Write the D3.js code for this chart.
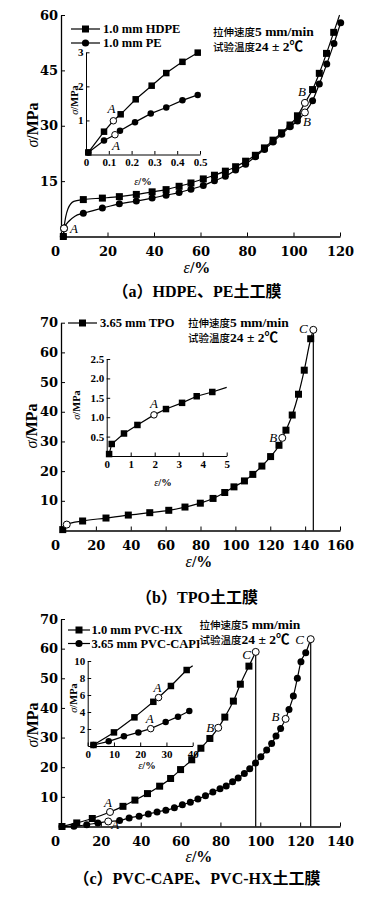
<!DOCTYPE html>
<html>
<head>
<meta charset="utf-8">
<script src="https://cdn.jsdelivr.net/npm/d3@7.9.0/dist/d3.min.js"></script>
<style>
  body { margin: 0; background: #fff; }
</style>
</head>
<body>
<svg id="chart" width="373" height="899"></svg>
<script>
"use strict";

// ---- data: (strain %, stress MPa) ----

// (a) HDPE / PE
const hdpeMarks = [[1, 0], [9.6, 10.0], [17.8, 10.4], [25.1, 10.8], [32.4, 11.4], [39.2, 12.1], [45.2, 12.7],
    [50.8, 13.6], [55.9, 14.5], [61.2, 15.6], [66.0, 16.6], [70.7, 17.7], [75.1, 18.9], [79.4, 20.4],
    [83.6, 22.0], [87.5, 24.0], [91.2, 26.1], [94.9, 28.1], [98.5, 30.2], [101.7, 32.7], [108.2, 39.8],
    [111.1, 44.2], [114.2, 49.6], [117.3, 55.3]];
const hdpeBend = [[3.0, 7.5], [5.5, 9.5], [119.8, 60.0]];
const hdpeKeys = [[1.3, 2.2, "A"], [104.9, 36.2, "B"]];

const peMarks = [[1, 0], [9.6, 6.3], [17.8, 7.7], [25.1, 8.85], [32.4, 9.6], [39.2, 10.4], [45.2, 11.2],
    [50.8, 11.9], [55.9, 12.8], [61.2, 13.8], [66.0, 15.1], [70.7, 16.3], [75.1, 18.0], [79.4, 19.6],
    [83.6, 21.6], [87.5, 23.6], [91.2, 25.6], [94.9, 27.7], [98.5, 29.7], [101.7, 31.3], [108.2, 36.8],
    [111.1, 41.3], [114.3, 46.7], [117.4, 52.3], [120.3, 57.9]];
const peBend = [[3.5, 4.2], [6.0, 5.5]];
const peKeys = [[1.3, 2.2, ""], [104.9, 33.6, "B"]];

const hdpeInset = [[0.01, 0.06], [0.079, 0.67], [0.152, 1.18], [0.218, 1.62], [0.288, 2.02], [0.352, 2.39],
    [0.423, 2.72], [0.49, 2.99]];
const hdpeInsetKeys = [[0.12, 0.99, "A"]];
const peInset = [[0.01, 0.06], [0.079, 0.41], [0.149, 0.70], [0.215, 0.95], [0.284, 1.20], [0.352, 1.38],
    [0.423, 1.59], [0.49, 1.75]];
const peInsetKeys = [[0.127, 0.58, "A"]];

// (b) TPO
const tpoMarks = [[1, 0.3], [12.4, 3.2], [25.8, 4.2], [38.6, 5.2], [50.9, 6.0], [61.8, 6.8], [71.1, 7.9],
    [79.9, 9.2], [87.2, 10.8], [93.9, 12.8], [99.2, 14.7], [105.2, 16.7], [110.0, 18.9], [115.2, 21.7],
    [120.2, 24.9], [125.0, 28.7], [129.0, 33.8], [132.6, 38.9], [136.2, 45.9], [139.5, 54.0], [143.2, 64.6]];
const tpoKeys = [[3.3, 2.0, ""], [126.9, 31.2, "B"], [144.7, 67.6, "C"]];

const tpoInset = [[0.1, 0.05], [0.21, 0.31], [0.72, 0.58], [1.28, 0.80], [2.47, 1.21], [3.14, 1.37],
    [3.75, 1.54], [4.40, 1.65]];
const tpoInsetEnd = [[5.0, 1.77]];
const tpoInsetKeys = [[1.97, 1.06, "A"]];

// (c) PVC-HX / PVC-CAPE
const hxMarks = [[0.5, 0], [7.9, 1.2], [15.7, 2.7], [31.1, 6.8], [37.1, 8.9], [43.4, 11.1], [49.5, 13.6],
    [55.0, 16.2], [60.0, 19.2], [65.6, 22.5], [70.2, 26.4], [74.7, 29.7], [82.2, 36.9], [86.5, 42.3],
    [90.0, 48.0], [94.3, 54.1]];
const hxKeys = [[24.6, 4.9, "A"], [78.9, 33.3, "B"], [97.7, 58.9, "C"]];

const capeMarks = [[0.5, 0], [6.5, 0.1], [12.9, 0.6], [18.5, 1.2], [29.4, 2.0], [34.2, 2.9], [39.2, 3.5],
    [43.8, 4.2], [48.2, 4.9], [52.6, 5.5], [56.9, 6.3], [60.9, 7.3], [64.9, 8.2], [68.7, 9.3], [72.5, 10.4],
    [76.2, 11.6], [79.8, 12.7], [82.9, 13.7], [86.1, 15.1], [88.9, 16.4], [92.0, 17.9], [94.7, 19.5],
    [97.6, 21.4], [100.3, 23.5], [103.2, 25.8], [105.7, 28.0], [107.9, 30.5], [110.2, 33.1], [114.4, 39.5],
    [116.6, 44.0], [118.6, 50.0], [120.4, 55.6], [122.8, 58.6]];
const capeKeys = [[23.7, 1.7, "A"], [112.7, 36.3, "B"], [125.3, 63.2, "C"]];

const hxInset = [[2.2, 0.12], [10, 1.6], [17.8, 3.37], [25, 5.2], [31.7, 7.06], [37.7, 8.94]];
const hxInsetEnd = [[40, 9.45]];
const hxInsetKeys = [[27, 5.7, "A"]];
const capeInset = [[2.2, 0.12], [8, 0.55], [13.8, 1.14], [19.3, 1.6], [29.7, 2.82], [34.4, 3.45], [38.7, 4.12]];
const capeInsetKeys = [[24, 2.04, "A"]];

// ---- ticks and texts ----
const ticksA = { x: [0, 20, 40, 60, 80, 100, 120], y: [15, 30, 45, 60] };
const ticksAInset = { x: [0, 0.1, 0.2, 0.3, 0.4, 0.5], y: [1, 2, 3] };
const ticksB = { x: [0, 20, 40, 60, 80, 100, 120, 140, 160], y: [10, 20, 30, 40, 50, 60, 70] };
const ticksBInset = { x: [0, 1, 2, 3, 4, 5], y: [0.5, 1.0, 1.5, 2.0, 2.5] };
const ticksC = { x: [0, 20, 40, 60, 80, 100, 120, 140], y: [10, 20, 30, 40, 50, 60, 70] };
const ticksCInset = { x: [0, 10, 20, 30, 40], y: [2, 4, 6, 8, 10] };

const legendA = ["1.0 mm HDPE", "1.0 mm PE"];
const legendB = ["3.65 mm TPO"];
const legendC = ["1.0 mm PVC-HX", "3.65 mm PVC-CAPE"];
const noteLines = [["拉伸速度", "5 mm/min"], ["试验温度", "24 ± 2℃"]];
const captions = ["（a）HDPE、PE土工膜", "（b）TPO土工膜", "（c）PVC-CAPE、PVC-HX土工膜"];

// ---- drawing ----
const NUM_FONT = "'DejaVu Serif', serif";
const SERIF = "'Liberation Serif', 'Noto Sans CJK SC', serif";
const CJK = "'Noto Sans CJK SC', sans-serif";

const svg = d3.select("#chart");
const markLayer = [];

function drawAxes(g, x, y, ticks, o) {
    const xa = g.append("g")
        .attr("transform", `translate(0,${y.range()[0]})`)
        .call(d3.axisBottom(x).tickValues(ticks.x).tickFormat(o.xFmt || String)
            .tickSizeInner(-o.tick).tickSizeOuter(0).tickPadding(o.xPad));
    const ya = g.append("g")
        .attr("transform", `translate(${x.range()[0]},0)`)
        .call(d3.axisLeft(y).tickValues(ticks.y).tickFormat(o.yFmt || String)
            .tickSizeInner(-o.tick).tickSizeOuter(0).tickPadding(o.yPad));

    for (const a of [xa, ya]) {
        a.attr("font-family", o.font).attr("font-size", o.size).attr("font-weight", "bold");
        a.select(".domain").attr("stroke", "#000").attr("stroke-width", o.sw);
        a.selectAll(".tick line").attr("stroke", "#000").attr("stroke-width", 1);
        a.selectAll(".tick text").attr("fill", "#000");
    }
    if (o.zeroShift) {
        xa.selectAll(".tick text").filter((d) => d === 0).attr("dx", o.zeroShift);
    }
}

function axisTitles(g, xt, yt, size) {
    g.append("text")
        .attr("x", xt[0]).attr("y", xt[1])
        .attr("text-anchor", "middle")
        .attr("font-family", SERIF).attr("font-weight", "bold").attr("font-size", size)
        .call((t) => {
            t.append("tspan").attr("font-style", "italic").attr("font-weight", "normal").text("ε");
            t.append("tspan").text("/%");
        });
    g.append("text")
        .attr("transform", `translate(${yt[0]},${yt[1]}) rotate(-90)`)
        .attr("text-anchor", "middle")
        .attr("font-family", SERIF).attr("font-weight", "bold").attr("font-size", size)
        .call((t) => {
            t.append("tspan").attr("font-style", "italic").attr("font-weight", "normal").text("σ");
            t.append("tspan").text("/MPa");
        });
}

// line through marks, bend points and key points; marks are queued to draw on top
function drawSeries(g, x, y, s) {
    const pts = [...s.marks, ...(s.extra || []), ...s.keys].sort((a, b) => a[0] - b[0]);
    g.append("path")
        .attr("d", d3.line().x((d) => x(d[0])).y((d) => y(d[1])).curve(s.curve)(pts))
        .attr("fill", "none")
        .attr("stroke", "#000")
        .attr("stroke-width", s.lw || 1.2);

    if (s.drop) {
        const c = s.keys[s.keys.length - 1];
        g.append("line")
            .attr("x1", x(c[0])).attr("x2", x(c[0]))
            .attr("y1", y(c[1])).attr("y2", y(0))
            .attr("stroke", "#000").attr("stroke-width", 1.2);
    }

    s.keys.forEach((k, i) => {
        const off = s.labelOff[i];
        if (!k[2] || !off) return;
        g.append("text")
            .attr("x", x(k[0]) + off[0]).attr("y", y(k[1]) + off[1])
            .attr("text-anchor", "middle").attr("dominant-baseline", "central")
            .attr("font-family", SERIF).attr("font-style", "italic")
            .attr("font-size", s.labelSize || 13)
            .text(k[2]);
    });

    markLayer.push({ g, x, y, s });
}

function drawMarks(m) {
    const { g, x, y, s } = m;
    const size = s.size || 7;
    const gm = g.append("g");
    if (s.shape === "square") {
        gm.selectAll("rect").data(s.marks).join("rect")
            .attr("x", (d) => x(d[0]) - size / 2).attr("y", (d) => y(d[1]) - size / 2)
            .attr("width", size).attr("height", size).attr("fill", "#000");
    } else {
        gm.selectAll("circle").data(s.marks).join("circle")
            .attr("cx", (d) => x(d[0])).attr("cy", (d) => y(d[1]))
            .attr("r", size / 2).attr("fill", "#000");
    }
    gm.selectAll(".open").data(s.keys).join("circle")
        .attr("class", "open")
        .attr("cx", (d) => x(d[0])).attr("cy", (d) => y(d[1]))
        .attr("r", size / 2)
        .attr("fill", "#fff").attr("stroke", "#000").attr("stroke-width", 1);
}

function drawLegend(g, names, shapes, o) {
    names.forEach((name, i) => {
        const yy = o.y + i * o.step;
        g.append("line")
            .attr("x1", o.x1).attr("x2", o.x2).attr("y1", yy).attr("y2", yy)
            .attr("stroke", "#000").attr("stroke-width", 1.2);
        const mx = (o.x1 + o.x2) / 2;
        if (shapes[i] === "square") {
            g.append("rect").attr("x", mx - 3.5).attr("y", yy - 3.5).attr("width", 7).attr("height", 7);
        } else {
            g.append("circle").attr("cx", mx).attr("cy", yy).attr("r", 3.6);
        }
        const t = g.append("text")
            .attr("x", o.x2 + (o.gap || 3)).attr("y", yy + 4.3)
            .attr("font-family", SERIF).attr("font-weight", "bold").attr("font-size", o.size)
            .text(name);
        if (o.clip && i === names.length - 1) t.attr("clip-path", `url(#${o.clip})`);
    });
}

// Chinese part is set smaller than the Latin part, as in the figure
function drawNote(g, x, y) {
    noteLines.forEach((ln, i) => {
        const t = g.append("text")
            .attr("x", x).attr("y", y + i * 15.3);
        t.append("tspan").attr("font-family", CJK).attr("font-weight", 500).attr("font-size", 10.5).text(ln[0]);
        t.append("tspan").attr("font-family", SERIF).attr("font-weight", "bold").attr("font-size", 13.5).text(ln[1]);
    });
}

function caption(text, y) {
    svg.append("text")
        .attr("x", 197).attr("y", y)
        .attr("text-anchor", "middle")
        .attr("font-family", SERIF).attr("font-weight", "bold").attr("font-size", 16)
        .text(text);
}

const mainAxis = { tick: 4, xPad: 10, yPad: 3, font: NUM_FONT, size: 13, sw: 1.3, zeroShift: -6 };
const insetAxis = { tick: 3.5, xPad: 4, yPad: 2.5, font: SERIF, size: 11, sw: 1 };
const smooth = d3.curveMonotoneX;
const straight = d3.curveLinear;

// ----- panel (a) -----
{
    const g = svg.append("g");
    const x = d3.scaleLinear().domain([0, 120]).range([61, 340]);
    const y = d3.scaleLinear().domain([0, 60]).range([236.5, 15]);
    drawAxes(g, x, y, ticksA, mainAxis);
    axisTitles(g, [197, 273], [38, 125], 16);

    drawSeries(g, x, y, { marks: peMarks, extra: peBend, keys: peKeys, shape: "circle", curve: smooth,
        labelOff: [null, [2, 9]] });
    drawSeries(g, x, y, { marks: hdpeMarks, extra: hdpeBend, keys: hdpeKeys, shape: "square", curve: smooth,
        labelOff: [[10, 0], [-3, -11]] });

    const xi = d3.scaleLinear().domain([0, 0.5]).range([86, 200]);
    const yi = d3.scaleLinear().domain([0, 3]).range([154.5, 52.3]);
    drawAxes(g, xi, yi, ticksAInset, { ...insetAxis, xFmt: (d) => (d === 0 ? "0" : d3.format(".1f")(d)) });
    axisTitles(g, [143, 184.5], [78, 100], 10.5);
    drawSeries(g, xi, yi, { marks: hdpeInset, keys: hdpeInsetKeys, shape: "square", curve: straight,
        size: 6.5, labelOff: [[-2, -12]] });
    drawSeries(g, xi, yi, { marks: peInset, keys: peInsetKeys, shape: "circle", curve: straight,
        size: 6.5, labelOff: [[1, 11]] });

    drawLegend(g, legendA, ["square", "circle"], { x1: 71, x2: 100, y: 29, step: 14, size: 12.5 });
    drawNote(g, 213, 36);
}

// ----- panel (b) -----
{
    const g = svg.append("g");
    const x = d3.scaleLinear().domain([0, 160]).range([61, 340]);
    const y = d3.scaleLinear().domain([0, 70]).range([530.5, 322.7]);
    drawAxes(g, x, y, ticksB, mainAxis);
    axisTitles(g, [199, 567], [37, 426], 16);

    drawSeries(g, x, y, { marks: tpoMarks, keys: tpoKeys, shape: "square", curve: smooth, drop: true,
        labelOff: [null, [-9, 0], [-10, -1]] });

    const xi = d3.scaleLinear().domain([0, 5]).range([106.7, 226.7]);
    const yi = d3.scaleLinear().domain([0, 2.5]).range([456, 359]);
    drawAxes(g, xi, yi, ticksBInset, { ...insetAxis, yFmt: d3.format(".1f") });
    axisTitles(g, [163, 486], [80, 405], 10.5);
    drawSeries(g, xi, yi, { marks: tpoInset, extra: tpoInsetEnd, keys: tpoInsetKeys, shape: "square",
        curve: straight, size: 6.5, labelOff: [[0, -11]] });

    drawLegend(g, legendB, ["square"], { x1: 68, x2: 97, y: 323, step: 14, size: 12.5 });
    drawNote(g, 188, 327);
}

// ----- panel (c) -----
{
    const g = svg.append("g");
    g.append("clipPath").attr("id", "legclip")
        .append("rect").attr("x", 0).attr("y", 600).attr("width", 199.5).attr("height", 100);

    const x = d3.scaleLinear().domain([0, 140]).range([61, 340]);
    const y = d3.scaleLinear().domain([0, 70]).range([826.5, 619]);
    drawAxes(g, x, y, ticksC, mainAxis);
    axisTitles(g, [199, 862], [38, 725], 16);

    drawSeries(g, x, y, { marks: capeMarks, keys: capeKeys, shape: "circle", curve: smooth, drop: true,
        labelOff: [[7, 3], [-10, -2], [-11, 0]] });
    drawSeries(g, x, y, { marks: hxMarks, keys: hxKeys, shape: "square", curve: smooth, drop: true,
        labelOff: [[-2, -9], [-8, 0], [-9, 2.5]] });

    const xi = d3.scaleLinear().domain([0, 40]).range([87.7, 192.7]);
    const yi = d3.scaleLinear().domain([0, 10]).range([746, 661]);
    drawAxes(g, xi, yi, ticksCInset, insetAxis);
    axisTitles(g, [147, 769], [76.5, 698], 10.5);
    drawSeries(g, xi, yi, { marks: hxInset, extra: hxInsetEnd, keys: hxInsetKeys, shape: "square",
        curve: straight, size: 6.5, labelOff: [[-1, -10]] });
    drawSeries(g, xi, yi, { marks: capeInset, keys: capeInsetKeys, shape: "circle",
        curve: straight, size: 6.5, labelOff: [[-1, -10]] });

    drawLegend(g, legendC, ["square", "circle"],
        { x1: 68, x2: 90, y: 630, step: 13.5, size: 12.5, gap: 1.5, clip: "legclip" });
    drawNote(g, 199.5, 629);
}

markLayer.forEach(drawMarks);

caption(captions[0], 297);
caption(captions[1], 603);
caption(captions[2], 884);
</script>
</body>
</html>
